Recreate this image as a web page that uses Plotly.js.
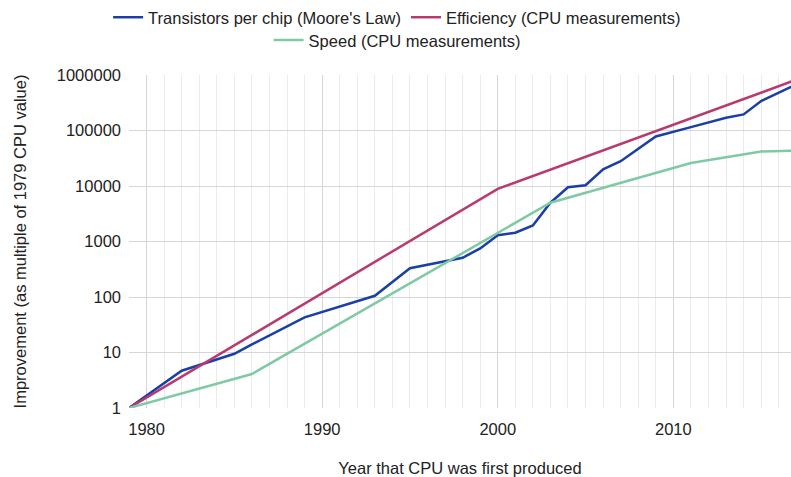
<!DOCTYPE html>
<html>
<head>
<meta charset="utf-8">
<script src="https://cdn.plot.ly/plotly-3.0.1.min.js"></script>
<style>html,body{margin:0;padding:0;background:#fff;}#chart{width:791px;height:477px;}</style>
</head>
<body>
<div id="chart"></div>
<script>
// Transistors per chip (Moore's Law)
const transYears = [1979, 1982, 1985, 1986, 1989, 1993, 1995, 1998, 1999, 2000, 2001, 2002, 2003, 2004, 2005, 2006, 2007, 2009, 2011, 2013, 2014, 2015, 2017];
const transValues = [1, 4.7, 9.5, 14, 43, 105, 330, 510, 750, 1300, 1440, 1950, 5000, 9500, 10300, 20000, 28000, 78000, 115000, 170000, 195000, 340000, 680000];
// Efficiency (CPU measurements)
const effYears = [1979, 2000, 2017];
const effValues = [1, 8900, 820000];
// Speed (CPU measurements)
const speedYears = [1979, 1986, 2003, 2011, 2015, 2017];
const speedValues = [1, 4.1, 5000, 26000, 42000, 43500];

const yTickVals = [1, 10, 100, 1000, 10000, 100000, 1000000];
const yTickText = ['1', '10', '100', '1000', '10000', '100000', '1000000'];

const FONT = '"Liberation Sans", Arial, Helvetica, sans-serif';
const FS = 16.5;

const traces = [
  {x: transYears, y: transValues, type: 'scatter', mode: 'lines', name: 'Transistors per chip (Moore\'s Law)',
   line: {color: '#1a3fa6', width: 2.5}, legend: 'legend'},
  {x: effYears, y: effValues, type: 'scatter', mode: 'lines', name: 'Efficiency (CPU measurements)',
   line: {color: '#b83a6e', width: 2.5}, legend: 'legend'},
  {x: speedYears, y: speedValues, type: 'scatter', mode: 'lines', name: 'Speed (CPU measurements)',
   line: {color: '#7fcaa5', width: 2.5}, legend: 'legend2'}
];

const layout = {
  width: 791, height: 477,
  margin: {l: 129, r: 0, t: 73, b: 69},
  paper_bgcolor: '#ffffff', plot_bgcolor: '#ffffff',
  font: {family: FONT, size: FS, color: '#222222'},
  xaxis: {
    range: [1979, 2016.7],
    tick0: 1980, dtick: 10,
    showgrid: true, gridcolor: '#d6d6d6', gridwidth: 1,
    minor: {dtick: 1, showgrid: true, gridcolor: '#ebebeb', gridwidth: 1},
    zeroline: false, showline: false, ticks: '',
    ticklabelstandoff: 9,
    tickfont: {family: FONT, size: FS, color: '#222222'},
    title: {text: 'Year that CPU was first produced', font: {family: FONT, size: FS, color: '#222222'}, standoff: 25}
  },
  yaxis: {
    type: 'log', range: [0, 6],
    tickvals: yTickVals, ticktext: yTickText,
    showgrid: true, gridcolor: '#d6d6d6', gridwidth: 1,
    zeroline: false, showline: false, ticks: '',
    ticklabelstandoff: 7,
    tickfont: {family: FONT, size: FS, color: '#222222'},
    title: {text: 'Improvement (as multiple of 1979 CPU value)', font: {family: FONT, size: FS, color: '#222222'}, standoff: 25}
  },
  showlegend: true,
  legend: {orientation: 'h', x: 0.405, xanchor: 'center', y: 1.173, yanchor: 'middle',
           font: {family: FONT, size: FS, color: '#222222'}, bgcolor: 'rgba(0,0,0,0)'},
  legend2: {orientation: 'h', x: 0.405, xanchor: 'center', y: 1.104, yanchor: 'middle',
           font: {family: FONT, size: FS, color: '#222222'}, bgcolor: 'rgba(0,0,0,0)'}
};

Plotly.newPlot('chart', traces, layout, {displayModeBar: false, staticPlot: true});
</script>
</body>
</html>
